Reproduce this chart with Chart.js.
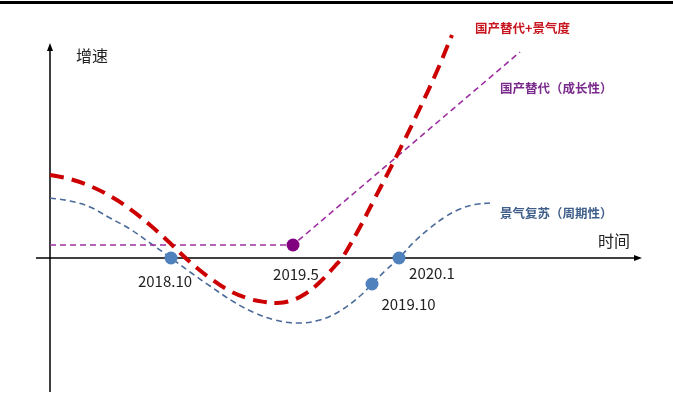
<!DOCTYPE html>
<html>
<head>
<meta charset="utf-8">
<script src="https://cdn.jsdelivr.net/npm/chart.js@4/dist/chart.umd.min.js"></script>
<style>
  html, body { margin: 0; padding: 0; background: #fff; }
  canvas { display: block; }
</style>
</head>
<body>
<canvas id="cycle" width="673" height="415"></canvas>
<script>
// 景气复苏（周期性）: growth swings down and back up
const cycleX = [0, 2, 4, 6, 8, 10, 12.1, 14, 16, 18.4, 20.5, 22.5, 24.7, 27, 29, 31, 32.2, 33.5, 34.9, 36.5, 38, 39.5, 41, 42.5, 44];
const cycleY = [6.0, 5.7, 5.1, 4.0, 2.9, 1.5, 0, -1.4, -2.8, -4.4, -5.5, -6.2, -6.5, -6.2, -5.3, -3.8, -2.6, -1.3, 0, 1.7, 3.0, 4.1, 4.9, 5.35, 5.5];

// 国产替代（成长性）: flat until 2019.5, then a steady climb
const growthX = [0, 24.3, 47.0];
const growthY = [1.3, 1.3, 20.6];

// 国产替代+景气度: the two effects stacked
const comboX = [0, 2, 4, 6, 8, 10, 12, 14, 16, 18, 20, 21.5, 22.7, 24, 25.5, 27, 28.5, 29.2, 30, 31, 32.5, 34, 35.5, 37, 38.7, 40.2];
const comboY = [8.3, 7.9, 7.2, 6.2, 4.9, 3.3, 1.5, -0.4, -2.0, -3.3, -4.1, -4.4, -4.5, -4.3, -3.6, -2.4, -0.8, 0, 1.3, 3.1, 6.0, 8.9, 11.9, 15.0, 18.7, 22.3];

// milestones marked on the curves
const markerLabels = ['2018.10', '2019.5', '2019.10', '2020.1'];
const markerX = [12.1, 24.3, 32.2, 34.9];
const markerY = [0, 1.3, -2.6, 0];
const markerColors = ['#4f81bd', '#800080', '#4f81bd', '#4f81bd'];

const seriesNames = ['国产替代+景气度', '国产替代（成长性）', '景气复苏（周期性）'];

const toPoints = (xs, ys) => xs.map((x, i) => ({ x: x, y: ys[i] }));

const FONT = '"Noto Sans CJK SC", "Noto Sans", sans-serif';

// axes with arrow heads plus all the text annotations
const sketchPlugin = {
  id: 'sketch',
  beforeDatasetsDraw(chart) {
    const ctx = chart.ctx;
    const xs = chart.scales.x, ys = chart.scales.y;
    const ox = xs.getPixelForValue(0), oy = ys.getPixelForValue(0);
    const xEnd = xs.getPixelForValue(59.2);
    const yTop = ys.getPixelForValue(21.5), yBot = ys.getPixelForValue(-13.4);
    const xStart = xs.getPixelForValue(-1.4);

    ctx.save();
    // heading rule
    ctx.fillStyle = '#000';
    ctx.fillRect(0, 1, chart.width, 3);

    ctx.strokeStyle = '#000';
    ctx.lineWidth = 1.5;
    ctx.beginPath();
    ctx.moveTo(xStart, oy);
    ctx.lineTo(xEnd - 4, oy);
    ctx.moveTo(ox, yBot);
    ctx.lineTo(ox, yTop + 4);
    ctx.stroke();

    ctx.beginPath();
    ctx.moveTo(xEnd, oy);
    ctx.lineTo(xEnd - 8, oy - 3);
    ctx.lineTo(xEnd - 8, oy + 3);
    ctx.closePath();
    ctx.moveTo(ox, yTop);
    ctx.lineTo(ox - 3, yTop + 8);
    ctx.lineTo(ox + 3, yTop + 8);
    ctx.closePath();
    ctx.fill();

    ctx.fillStyle = '#222';
    ctx.font = '16px ' + FONT;
    ctx.textBaseline = 'middle';
    ctx.textAlign = 'left';
    ctx.fillText('增速', ox + 26, yTop + 13);
    ctx.fillText('时间', xEnd - 44, oy - 17);
    ctx.restore();
  },
  afterDatasetsDraw(chart) {
    const ctx = chart.ctx;
    const xs = chart.scales.x, ys = chart.scales.y;
    ctx.save();
    ctx.textBaseline = 'middle';

    ctx.font = 'bold 12.5px ' + FONT;
    ctx.textAlign = 'left';
    ctx.fillStyle = '#c8141e';
    ctx.fillText(seriesNames[0], 475, 28.5);
    ctx.fillStyle = '#7a2a8c';
    ctx.fillText(seriesNames[1], 500, 88);
    ctx.fillStyle = '#3f5f8a';
    ctx.fillText(seriesNames[2], 500, 213.5);

    const offsets = [[-6, 23], [3, 29.5], [36.5, 20], [33, 15.5]];
    ctx.font = '15px ' + FONT;
    ctx.textAlign = 'center';
    ctx.fillStyle = '#222';
    markerLabels.forEach((label, i) => {
      const px = xs.getPixelForValue(markerX[i]);
      const py = ys.getPixelForValue(markerY[i]);
      ctx.fillText(label, px + offsets[i][0], py + offsets[i][1]);
    });
    ctx.restore();
  }
};

new Chart(document.getElementById('cycle'), {
  type: 'scatter',
  data: {
    datasets: [
      {
        label: 'markers',
        data: toPoints(markerX, markerY),
        showLine: false,
        pointRadius: 6.5,
        pointHoverRadius: 6.5,
        pointBackgroundColor: markerColors,
        pointBorderWidth: 0,
        order: 0
      },
      {
        label: seriesNames[0],
        data: toPoints(comboX, comboY),
        showLine: true,
        borderColor: '#cc0000',
        borderWidth: 4,
        borderDash: [14, 8],
        tension: 0.4,
        pointRadius: 0,
        order: 1
      },
      {
        label: seriesNames[1],
        data: toPoints(growthX, growthY),
        showLine: true,
        borderColor: '#9b2fa0',
        borderWidth: 1.6,
        borderDash: [6, 4],
        tension: 0,
        pointRadius: 0,
        order: 2
      },
      {
        label: seriesNames[2],
        data: toPoints(cycleX, cycleY),
        showLine: true,
        borderColor: '#4a6b9a',
        borderWidth: 1.6,
        borderDash: [6, 4],
        tension: 0.4,
        pointRadius: 0,
        order: 3
      }
    ]
  },
  options: {
    responsive: false,
    animation: false,
    layout: { padding: 0, autoPadding: false },
    plugins: { legend: { display: false }, tooltip: { enabled: false } },
    scales: {
      x: { type: 'linear', min: -5.0, max: 62.3, display: false },
      y: { type: 'linear', min: -15.7, max: 25.8, display: false }
    }
  },
  plugins: [sketchPlugin]
});
</script>
</body>
</html>
